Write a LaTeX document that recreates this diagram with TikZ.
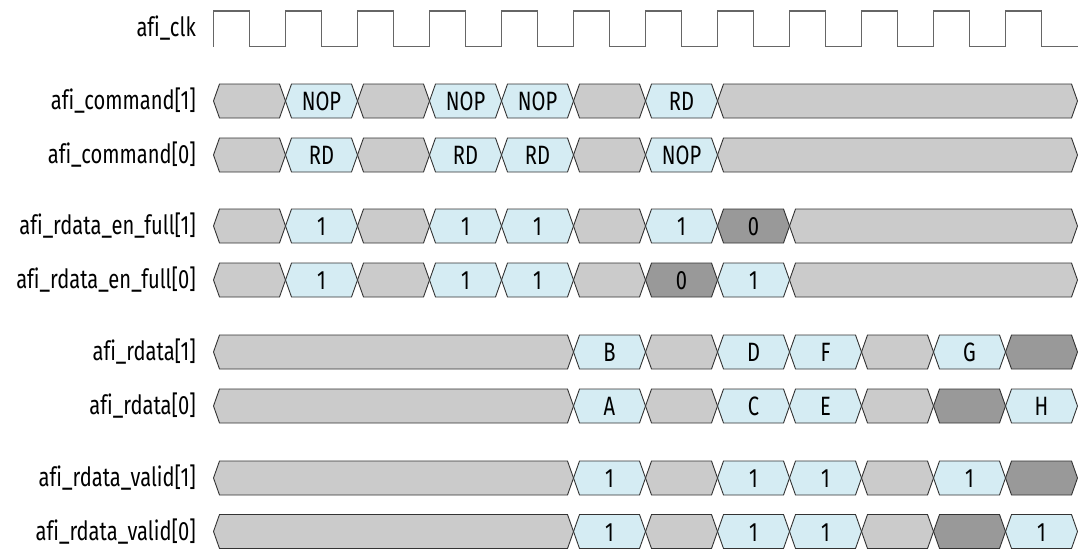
\documentclass[tikz,border=0pt]{standalone}
\usepackage{fontspec}
\setmainfont[FakeStretch=0.76,Ligatures=NoCommon]{Fira Sans}
\definecolor{bordergray}{HTML}{333333}
\definecolor{idlegray}{HTML}{CBCBCB}
\definecolor{valblue}{HTML}{D5ECF3}
\definecolor{busygray}{HTML}{999999}
\definecolor{clkgray}{HTML}{666666}
\tikzset{
  segbox/.style={draw=bordergray, line width=0.9pt, line join=miter},
  idle/.style={segbox, fill=idlegray},
  val/.style={segbox, fill=valblue},
  busy/.style={segbox, fill=busygray},
  txt/.style={font=\fontsize{26.5}{26.5}\selectfont, inner sep=0pt, text=black},
  lab/.style={txt, anchor=base east},
  clk/.style={draw=clkgray, line width=1.1pt, line join=miter}
}
% #1 row centre y, #2 start cycle, #3 end cycle, #4 style, #5 text
\newcommand\tseg[5]{%
  \path[#4] ({213.5+72*#2},#1) -- ({219.5+72*#2},#1-17) -- ({207.5+72*#3},#1-17)
    -- ({213.5+72*#3},#1) -- ({207.5+72*#3},#1+17) -- ({219.5+72*#2},#1+17) -- cycle;
  \node[txt, anchor=base] (v#1c#2) at ({213.5+36*(#2+#3)},#1+9.5) {#5};}
\begin{document}
\begin{tikzpicture}[x=1pt,y=-1pt]
\useasboundingbox (0,0) rectangle (1083,549);
% clock
\node[lab] (lclk) at (196,36) {afi\_clk};
\draw[clk] (213.5,46.5) \foreach \k in {0,...,11}{ -- ({213.5+72*\k},11) -- ({249.5+72*\k},11) -- ({249.5+72*\k},46.5) -- ({285.5+72*\k},46.5)};
% labels
\node[lab] (l1) at (196,109.5) {afi\_command[1]};
\node[lab] (l2) at (196,163.5) {afi\_command[0]};
\node[lab] (l3) at (196,234.5) {afi\_rdata\_en\_full[1]};
\node[lab] (l4) at (196,288.5) {afi\_rdata\_en\_full[0]};
\node[lab] (l5) at (196,360.5) {afi\_rdata[1]};
\node[lab] (l6) at (196,414.5) {afi\_rdata[0]};
\node[lab] (l7) at (196,486.5) {afi\_rdata\_valid[1]};
\node[lab] (l8) at (196,540) {afi\_rdata\_valid[0]};
% afi_command[1]
\tseg{101}{0}{1}{idle}{}
\tseg{101}{1}{2}{val}{NOP}
\tseg{101}{2}{3}{idle}{}
\tseg{101}{3}{4}{val}{NOP}
\tseg{101}{4}{5}{val}{NOP}
\tseg{101}{5}{6}{idle}{}
\tseg{101}{6}{7}{val}{RD}
\tseg{101}{7}{12}{idle}{}
% afi_command[0]
\tseg{155}{0}{1}{idle}{}
\tseg{155}{1}{2}{val}{RD}
\tseg{155}{2}{3}{idle}{}
\tseg{155}{3}{4}{val}{RD}
\tseg{155}{4}{5}{val}{RD}
\tseg{155}{5}{6}{idle}{}
\tseg{155}{6}{7}{val}{NOP}
\tseg{155}{7}{12}{idle}{}
% afi_rdata_en_full[1]
\tseg{226}{0}{1}{idle}{}
\tseg{226}{1}{2}{val}{1}
\tseg{226}{2}{3}{idle}{}
\tseg{226}{3}{4}{val}{1}
\tseg{226}{4}{5}{val}{1}
\tseg{226}{5}{6}{idle}{}
\tseg{226}{6}{7}{val}{1}
\tseg{226}{7}{8}{busy}{0}
\tseg{226}{8}{12}{idle}{}
% afi_rdata_en_full[0]
\tseg{280}{0}{1}{idle}{}
\tseg{280}{1}{2}{val}{1}
\tseg{280}{2}{3}{idle}{}
\tseg{280}{3}{4}{val}{1}
\tseg{280}{4}{5}{val}{1}
\tseg{280}{5}{6}{idle}{}
\tseg{280}{6}{7}{busy}{0}
\tseg{280}{7}{8}{val}{1}
\tseg{280}{8}{12}{idle}{}
% afi_rdata[1]
\tseg{352}{0}{5}{idle}{}
\tseg{352}{5}{6}{val}{B}
\tseg{352}{6}{7}{idle}{}
\tseg{352}{7}{8}{val}{D}
\tseg{352}{8}{9}{val}{F}
\tseg{352}{9}{10}{idle}{}
\tseg{352}{10}{11}{val}{G}
\tseg{352}{11}{12}{busy}{}
% afi_rdata[0]
\tseg{406}{0}{5}{idle}{}
\tseg{406}{5}{6}{val}{A}
\tseg{406}{6}{7}{idle}{}
\tseg{406}{7}{8}{val}{C}
\tseg{406}{8}{9}{val}{E}
\tseg{406}{9}{10}{idle}{}
\tseg{406}{10}{11}{busy}{}
\tseg{406}{11}{12}{val}{H}
% afi_rdata_valid[1]
\tseg{478}{0}{5}{idle}{}
\tseg{478}{5}{6}{val}{1}
\tseg{478}{6}{7}{idle}{}
\tseg{478}{7}{8}{val}{1}
\tseg{478}{8}{9}{val}{1}
\tseg{478}{9}{10}{idle}{}
\tseg{478}{10}{11}{val}{1}
\tseg{478}{11}{12}{busy}{}
% afi_rdata_valid[0]
\tseg{531.5}{0}{5}{idle}{}
\tseg{531.5}{5}{6}{val}{1}
\tseg{531.5}{6}{7}{idle}{}
\tseg{531.5}{7}{8}{val}{1}
\tseg{531.5}{8}{9}{val}{1}
\tseg{531.5}{9}{10}{idle}{}
\tseg{531.5}{10}{11}{busy}{}
\tseg{531.5}{11}{12}{val}{1}
\end{tikzpicture}
\end{document}
